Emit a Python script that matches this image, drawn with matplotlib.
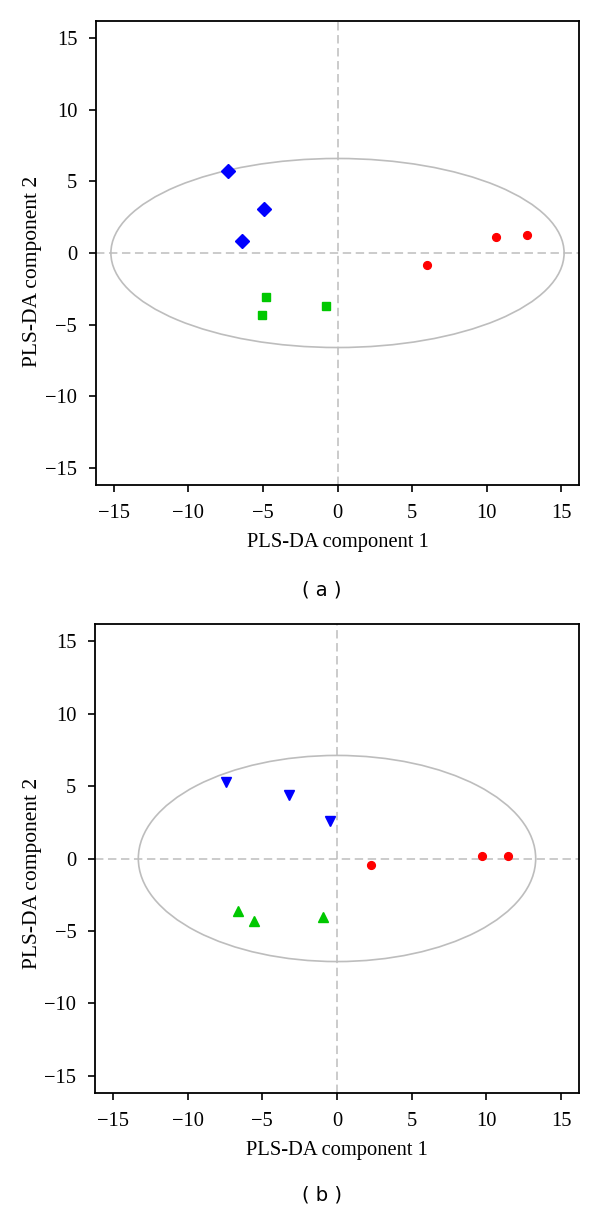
import matplotlib.pyplot as plt
from matplotlib.patches import Ellipse

plt.rcParams['font.family'] = ['Liberation Serif', 'DejaVu Serif']

# panel (a)
a_blue_x = [-7.36, -4.93, -6.40]
a_blue_y = [5.73, 3.08, 0.84]
a_green_x = [-4.81, -5.04, -0.80]
a_green_y = [-3.08, -4.32, -3.71]
a_red_x = [6.01, 10.60, 12.74]
a_red_y = [-0.87, 1.12, 1.29]
a_ell = (15.2, 6.6)

# panel (b)
b_blue_x = [-7.42, -3.21, -0.44]
b_blue_y = [5.29, 4.37, 2.58]
b_green_x = [-6.60, -5.53, -0.96]
b_green_y = [-3.64, -4.33, -4.04]
b_red_x = [2.28, 9.68, 11.47]
b_red_y = [-0.48, 0.18, 0.18]
b_ell = (13.3, 7.12)

ticks = [-15, -10, -5, 0, 5, 10, 15]
W, H = 600, 1213

fig = plt.figure(figsize=(6, 12.13), dpi=100)


def panel(rect, ell, blue, green, red, bmark, gmark, bms, gms, tag, tag_y, ylab_y):
    ax = fig.add_axes(rect)
    ax.set_xlim(-16.2, 16.2)
    ax.set_ylim(-16.2, 16.2)
    ax.axhline(0, color='#bdbdbd', ls=(0, (5.5, 3)), lw=1.1, zorder=1)
    ax.axvline(0, color='#bdbdbd', ls=(0, (5.5, 3)), lw=1.1, zorder=1)
    ax.add_patch(Ellipse((0, 0), 2 * ell[0], 2 * ell[1], fill=False,
                         edgecolor='#bdbdbd', lw=1.2, zorder=2))
    ax.plot(blue[0], blue[1], bmark, color='#0000ff', ms=bms, ls='none', zorder=3)
    ax.plot(green[0], green[1], gmark, color='#00c800', ms=gms, ls='none', zorder=3)
    ax.plot(red[0], red[1], 'o', color='#ff0000', ms=5.6, ls='none', zorder=3)
    ax.set_xticks(ticks)
    ax.set_yticks(ticks)
    ax.tick_params(direction='out', length=5, width=1.2, labelsize=14.8)
    ax.tick_params(axis='x', pad=9)
    ax.tick_params(axis='y', pad=8.5)
    for s in ax.spines.values():
        s.set_linewidth(1.3)
    ax.set_xlabel('PLS-DA component 1', fontsize=14.8, labelpad=7)
    fig.text(33 / W, 1 - ylab_y / H, 'PLS-DA component 2', fontsize=15.5,
             rotation=90, ha='center', va='center')
    fig.text(322 / W, 1 - tag_y / H, '( ' + tag + ' )', family='DejaVu Sans',
             fontsize=14, ha='center', va='center')
    return ax


panel([96 / W, 1 - 485 / H, (579 - 96) / W, 464 / H], a_ell,
      (a_blue_x, a_blue_y), (a_green_x, a_green_y), (a_red_x, a_red_y),
      'D', 's', 7.5, 5.2, 'a', 590, 271)
panel([95 / W, 1 - 1093 / H, (579 - 95) / W, 469 / H], b_ell,
      (b_blue_x, b_blue_y), (b_green_x, b_green_y), (b_red_x, b_red_y),
      'v', '^', 7.5, 7.5, 'b', 1195, 873)

fig.savefig('out.png', dpi=100)
